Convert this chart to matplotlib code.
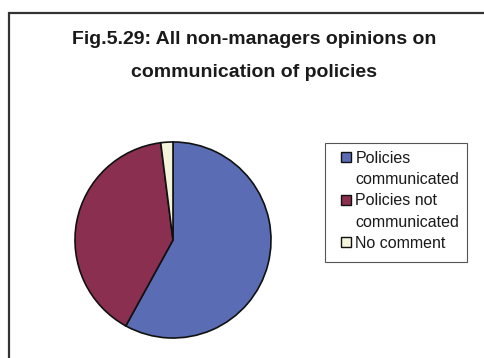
import matplotlib.pyplot as plt
from matplotlib.patches import Rectangle

# share of non-managers per answer (%)
labels = ['Policies\ncommunicated', 'Policies not\ncommunicated', 'No comment']
values = [58, 40, 2]
colors = ['#5a6cb4', '#8a2f4f', '#f4f4dc']

title = 'Fig.5.29: All non-managers opinions on\ncommunication of policies'

W, H = 485, 358
fig = plt.figure(figsize=(W / 100, H / 100), dpi=100)
plt.rcParams['font.family'] = ['Liberation Sans', 'DejaVu Sans']


def px_box(x0, y0, x1, y1, **kw):
    # rectangle given in pixel coords measured from the top-left corner
    return Rectangle((x0 / W, 1 - y1 / H), (x1 - x0) / W, (y1 - y0) / H,
                     transform=fig.transFigure, fill=False, **kw)


# outer chart frame (runs off the right and bottom edges)
fig.add_artist(px_box(9, 13, 520, 380, edgecolor='#333333', linewidth=1.6))

fig.text(254 / W, (H - 56) / H, title, ha='center', va='center',
         fontsize=14, fontweight='bold', color='#1a1a1a', linespacing=2.3)

# pie axes, radius ~99 px around (173, 240)
cx, cy, r = 173, 240, 99
ax = fig.add_axes([(cx - r) / W, (H - cy - r) / H, 2 * r / W, 2 * r / H])
wedges, _ = ax.pie(values, colors=colors, startangle=90, counterclock=False,
                   wedgeprops=dict(edgecolor='#111111', linewidth=1.2))
ax.set_xlim(-1.01, 1.01)
ax.set_ylim(-1.01, 1.01)
ax.set_aspect('equal')

# one legend row per text line, swatch only on the first line of each label
handles, rows = [], []
for w, lab in zip(wedges, labels):
    for i, line in enumerate(lab.split('\n')):
        if i == 0:
            handles.append(Rectangle((0, 0), 1, 1, facecolor=w.get_facecolor(),
                                     edgecolor='#111111', linewidth=1.0))
        else:
            handles.append(Rectangle((0, 0), 1, 1, visible=False))
        rows.append(line)

# legend box drawn separately so the inner padding can be set freely
fig.add_artist(px_box(325, 143, 467, 262, edgecolor='#555555', linewidth=0.8))
leg = fig.legend(handles, rows, loc='upper left',
                 bbox_to_anchor=(341 / W, (H - 151) / H), borderaxespad=0,
                 fontsize=11.5, frameon=False,
                 handlelength=0.6, handleheight=0.6, handletextpad=0.3,
                 labelspacing=0.39, borderpad=0)
for t in leg.get_texts():
    t.set_color('#1a1a1a')

fig.savefig('out.png', dpi=100)
